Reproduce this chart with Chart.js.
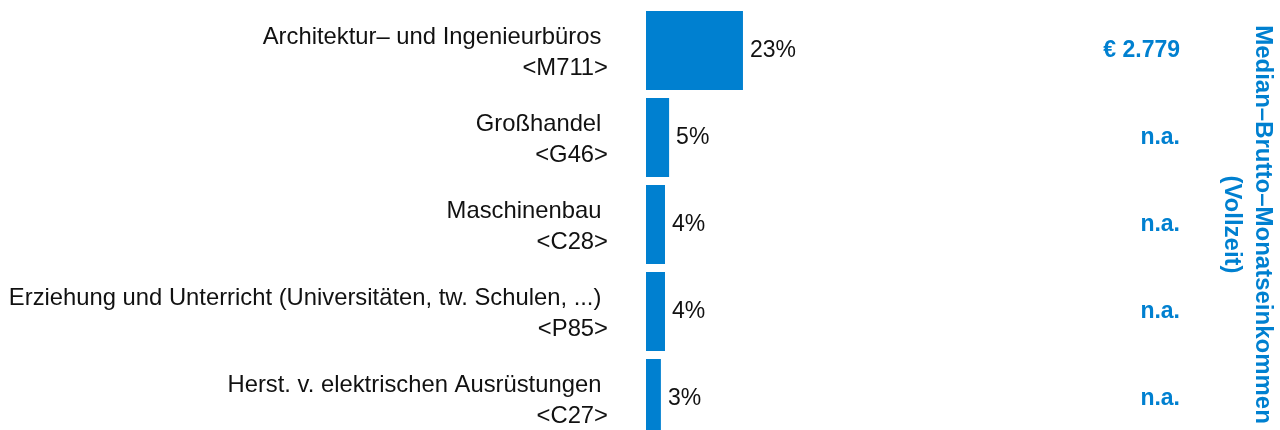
<!DOCTYPE html>
<html>
<head>
<meta charset="utf-8">
<script src="https://cdn.jsdelivr.net/npm/chart.js@4/dist/chart.umd.min.js"></script>
<style>
  html, body { margin: 0; padding: 0; background: #fff; width: 1280px; height: 430px; overflow: hidden; }
  #wrap { width: 1280px; height: 445px; }
</style>
</head>
<body>
<div id="wrap"><canvas id="c" width="1280" height="445"></canvas></div>
<script>
const categories = [
  'Architektur– und Ingenieurbüros',
  'Großhandel',
  'Maschinenbau',
  'Erziehung und Unterricht (Universitäten, tw. Schulen, ...)',
  'Herst. v. elektrischen Ausrüstungen'
];
const codes = ['<M711>', '<G46>', '<C28>', '<P85>', '<C27>'];
const shares = [23, 5, 4, 4, 3];
const shareLabels = ['23%', '5%', '4%', '4%', '3%'];
const incomes = ['€ 2.779', 'n.a.', 'n.a.', 'n.a.', 'n.a.'];
const incomeTitle = ['Median–Brutto–Monatseinkommen', '(Vollzeit)'];

const BLUE = '#0080d0';
const FONT = "'Liberation Sans', Arial, Helvetica, sans-serif";

const barLabels = {
  id: 'barLabels',
  afterDatasetsDraw(chart) {
    const ctx = chart.ctx;
    const meta = chart.getDatasetMeta(0);
    ctx.save();
    ctx.font = '23px ' + FONT;
    ctx.fillStyle = '#111';
    ctx.textAlign = 'left';
    ctx.textBaseline = 'middle';
    meta.data.forEach((bar, i) => {
      ctx.fillText(shareLabels[i], bar.x + 7, bar.y);
    });
    ctx.restore();
  }
};

function noVPad(s) { s.paddingTop = 0; s.paddingBottom = 0; }

new Chart(document.getElementById('c'), {
  type: 'bar',
  data: {
    labels: categories.map((c, i) => [c + ' ', codes[i]]),
    datasets: [{
      data: shares,
      backgroundColor: BLUE,
      borderWidth: 0,
      barPercentage: 0.908,
      categoryPercentage: 1,
      base: -0.63
    }]
  },
  options: {
    indexAxis: 'y',
    responsive: false,
    animation: false,
    layout: { padding: { left: 0, right: 0, top: 7, bottom: 3 } },
    plugins: { legend: { display: false }, tooltip: { enabled: false } },
    scales: {
      x: {
        display: false,
        min: -0.63,
        max: 129.5
      },
      y: {
        position: 'left',
        grid: { display: false, drawTicks: false },
        border: { display: false },
        ticks: {
          color: '#111',
          font: { family: FONT, size: 23.8, lineHeight: 1.33 },
          padding: 38,
          labelOffset: 2.5,
          autoSkip: false
        },
        afterFit(s) { s.width = 646; noVPad(s); }
      },
      y2: {
        type: 'category',
        axis: 'y',
        position: 'right',
        labels: incomes,
        offset: true,
        grid: { display: false, drawTicks: false },
        border: { display: false },
        ticks: {
          mirror: true,
          padding: 0,
          color: BLUE,
          font: { family: FONT, size: 23, weight: 'bold' },
          autoSkip: false
        },
        title: {
          display: true,
          text: incomeTitle,
          color: BLUE,
          font: { family: FONT, size: 24, weight: 'bold', lineHeight: 1.3 },
          padding: { top: 1.5, bottom: 0 }
        },
        afterFit(s) { s.width = 100; noVPad(s); }
      }
    }
  },
  plugins: [barLabels]
});
</script>
</body>
</html>
